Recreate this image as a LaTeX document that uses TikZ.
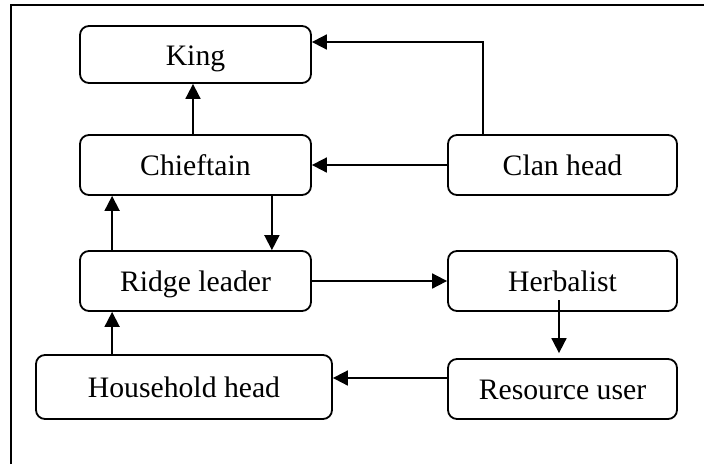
\documentclass[tikz,border=0pt]{standalone}
\usepackage{fontspec}
\setmainfont{Liberation Serif}
\usetikzlibrary{arrows.meta}
\begin{document}
\begin{tikzpicture}[x=1pt,y=-1pt,
  box/.style={draw,line width=1.8pt,rounded corners=9pt,inner sep=0pt,
    font=\fontsize{29.7}{34}\selectfont,text depth=6pt,text height=27pt},
  arr/.style={line width=1.8pt,-{Triangle[length=15pt,width=15pt]}},
  frame/.style={line width=1.8pt}]
\useasboundingbox (0,0) rectangle (704,464);
\draw[frame] (11,464) -- (11,5) -- (704,5);
\node[box,minimum width=231pt,minimum height=57pt] (king) at (195.5,54.5) {King};
\node[box,minimum width=231pt,minimum height=60pt] (chief) at (195.5,165) {Chieftain};
\node[box,minimum width=229pt,minimum height=60pt] (clan) at (562.5,165) {Clan head};
\node[box,minimum width=231pt,minimum height=60pt] (ridge) at (195.5,281) {Ridge leader};
\node[box,minimum width=229pt,minimum height=60pt] (herb) at (562.5,281) {Herbalist};
\node[box,minimum width=296pt,minimum height=64pt] (house) at (184,387) {Household head};
\node[box,minimum width=229pt,minimum height=60pt] (res) at (562.5,389) {Resource user};
\draw[arr] ([xshift=-2.5pt]chief.north) -- ([xshift=-2.5pt]king.south);
\draw[arr] ([xshift=36pt]clan.north west) |- ([yshift=12.5pt]king.east);
\draw[arr] (clan.west) -- (chief.east);
\draw[arr] ([xshift=33pt]ridge.north west) -- ([xshift=33pt]chief.south west);
\draw[arr] ([xshift=-40pt]chief.south east) -- ([xshift=-40pt]ridge.north east);
\draw[arr] (ridge.east) -- (herb.west);
\draw[arr] ([xshift=-3.5pt,yshift=-19pt]herb.center) -- ([xshift=-3.5pt,yshift=5pt]res.north);
\draw[arr] ([yshift=11pt]res.west) -- ([yshift=11pt]res.west -| house.east);
\draw[arr] ([xshift=77pt]house.north west) -- ([xshift=77pt]house.north west |- ridge.south);
\end{tikzpicture}
\end{document}
